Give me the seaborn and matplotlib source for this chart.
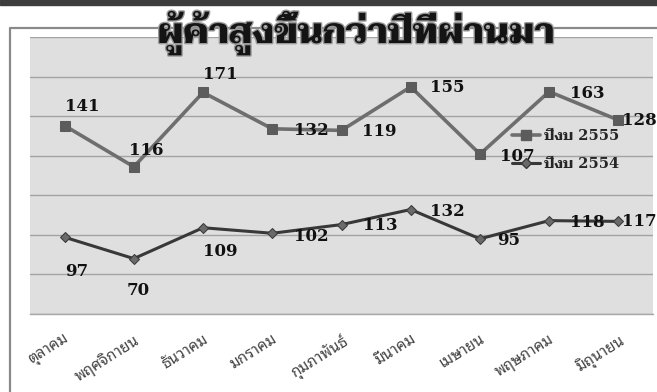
import matplotlib
matplotlib.use("Agg")
import numpy as np
import pandas as pd
import seaborn as sns
from matplotlib import pyplot as plt
from matplotlib import patheffects
from matplotlib.lines import Line2D

months = ["ตุลาคม", "พฤศจิกายน", "ธันวาคม", "มกราคม", "กุมภาพันธ์",
          "มีนาคม", "เมษายน", "พฤษภาคม", "มิถุนายน"]
traders_2554 = [97, 70, 109, 102, 113, 132, 95, 118, 117]
traders_2555 = [141, 116, 171, 132, 119, 155, 107, 163, 128]
series_names = ["ปีงบ 2554", "ปีงบ 2555"]
title = "ผู้ค้าสูงขึ้นกว่าปีที่ผ่านมา"

# label offsets in pixels (dx, dy), as placed in the original chart
offsets_2554 = [(12, -34), (4, -32), (17, -24), (39, -3), (39, -1),
                (37, -2), (29, -2), (38, -2), (21, 0)]
offsets_2555 = [(18, 19), (12, 16), (17, 18), (39, -2), (38, -1),
                (37, -1), (37, -2), (38, -2), (21, 0)]

# the original is an Excel stacked line chart: the 2555 line sits on top of 2554
df = pd.DataFrame({
    "pos": np.arange(len(months)),
    "v2554": traders_2554,
    "v2555": traders_2555,
})
df["stack2555"] = df["v2554"] + df["v2555"]

sns.set_style("white")
plt.rcParams["font.family"] = ["DejaVu Sans", "Sarabun"]

W, H = 657, 392
fig = plt.figure(figsize=(W / 100, H / 100), dpi=100)

# dark band at the very top and the chart frame
fig.patches.append(plt.Rectangle((0, 1 - 5 / H), 1, 5 / H, transform=fig.transFigure,
                                 color="#3d3d3d", zorder=0))
fig.add_artist(Line2D([10 / W, 10 / W, 1], [0, 1 - 28 / H, 1 - 28 / H],
                      transform=fig.transFigure, color="#8a8a8a", lw=1.6))

ax = fig.add_axes([30 / W, 78 / H, 623 / W, 277 / H])
ax.set_facecolor("#dfdfdf")

sns.lineplot(data=df, x="pos", y="v2554", color="#383838", lw=2.2, marker="D",
             markersize=5.5, markerfacecolor="#6a6a6a", markeredgecolor="#3a3a3a",
             ax=ax, zorder=3)
sns.lineplot(data=df, x="pos", y="stack2555", color="#6e6e6e", lw=2.6, marker="s",
             markersize=7, markerfacecolor="#5c5c5c", markeredgecolor="#5c5c5c",
             ax=ax, zorder=3)

label_font = dict(family=["DejaVu Serif"], weight="bold", fontsize=12, color="#111111")
for i, row in df.iterrows():
    ax.annotate(str(row["v2554"]), (row["pos"], row["v2554"]), xytext=offsets_2554[i],
                textcoords="offset pixels", ha="center", va="center",
                annotation_clip=False, zorder=4, **label_font)
    ax.annotate(str(row["v2555"]), (row["pos"], row["stack2555"]), xytext=offsets_2555[i],
                textcoords="offset pixels", ha="center", va="center",
                annotation_clip=False, zorder=4, **label_font)

ax.set_xlim(-0.5, len(months) - 0.5)
ax.set_ylim(0, 350)
ax.set_yticks(np.arange(0, 351, 50))
ax.yaxis.grid(True, color="#a3a3a3", lw=1)
ax.set_axisbelow(True)
ax.tick_params(axis="y", left=False, labelleft=False)

ax.set_xticks(df["pos"])
ax.set_xticklabels(months, rotation=32, ha="right", va="top", rotation_mode="anchor",
                   family=["Noto Sans Thai Looped"], fontsize=11, color="#444444")
ax.set_xticks(np.arange(-0.5, len(months)), minor=True)
ax.tick_params(axis="x", which="major", length=0, pad=13)
ax.tick_params(axis="x", which="minor", length=5, color="#9a9a9a", width=1, direction="out")
ax.set_xlabel("")
ax.set_ylabel("")
for side in ["left", "right", "top"]:
    ax.spines[side].set_visible(False)
ax.spines["bottom"].set_color("#a8a8a8")
ax.spines["bottom"].set_linewidth(1)

handles = [
    Line2D([], [], color="#6e6e6e", lw=2.6, marker="s", markersize=7,
           markerfacecolor="#5c5c5c", markeredgecolor="#5c5c5c"),
    Line2D([], [], color="#383838", lw=2.2, marker="D", markersize=5.5,
           markerfacecolor="#6a6a6a", markeredgecolor="#3a3a3a"),
]
ax.legend(handles, [series_names[1], series_names[0]], loc="upper left",
          bbox_to_anchor=(0.762, 0.695), frameon=False, handlelength=1.9,
          handletextpad=0.3, labelspacing=1.0, borderpad=0,
          prop=dict(family=["DejaVu Serif", "Taviraj"], weight="bold", size=10.5))

fig.text(356 / W, 1 - 43 / H, title, ha="center", va="baseline",
         family=["Taviraj"], weight="black", fontsize=25.5, color="#141414",
         path_effects=[patheffects.withStroke(linewidth=2, foreground="#9a9a9a")])

fig.savefig("out.png", dpi=100)
